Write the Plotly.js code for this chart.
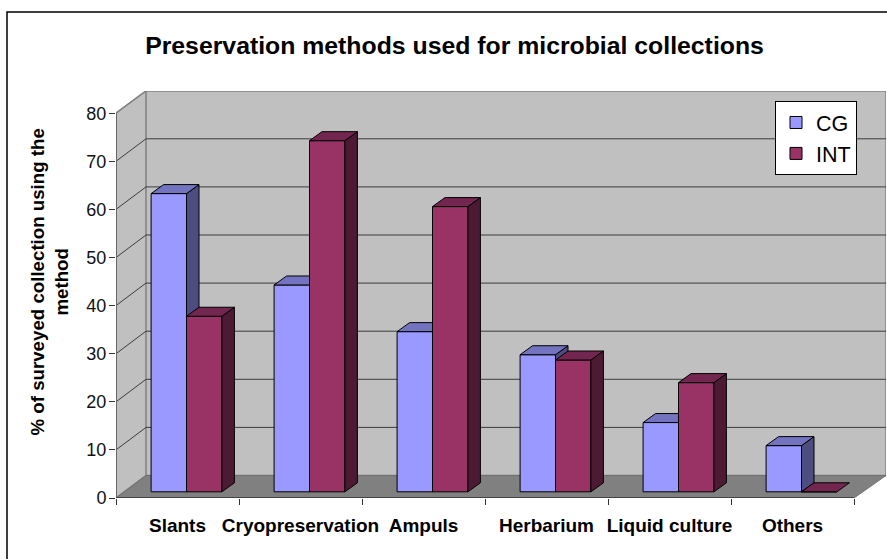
<!DOCTYPE html>
<html>
<head>
<meta charset="utf-8">
<script src="https://cdn.plot.ly/plotly-3.0.1.min.js"></script>
<style>
  html, body { margin: 0; padding: 0; background: #fff; overflow: hidden; }
</style>
</head>
<body>
<div id="chart" style="width:887px;height:559px;"></div>
<script>
// Survey results: share of collections using each preservation method
const categories = ['Slants', 'Cryopreservation', 'Ampuls', 'Herbarium', 'Liquid culture', 'Others'];
const cgValues = [62, 43, 33.3, 28.5, 14.4, 9.6];
const intValues = [36.5, 73, 59.3, 27.4, 22.7, 0];
const yTicks = [0, 10, 20, 30, 40, 50, 60, 70, 80];

// Plot box in pixels and the scale of each axis
const W = 887, H = 559;
const M = { l: 116, r: 1, t: 91, b: 61 };
const pxPerCat = 123, pxPerUnit = 4.81;
const xMax = (W - M.l - M.r) / pxPerCat;
const yMax = (H - M.t - M.b) / pxPerUnit;
const px = v => v / pxPerCat;   // horizontal pixels to category units
const py = v => v / pxPerUnit;  // vertical pixels to percent units

// Oblique projection: wall depth, bar depth, and where bars stand on the floor
const wallDX = px(30), wallDY = py(22.5);
const barDX = px(12.5), barDY = py(9);
const liftX = px(9), liftY = py(6.2);
const barW = px(35.4);

const n = categories.length;
const centres = categories.map((_, i) => i + 0.5);
const boundaries = Array.from({ length: n + 1 }, (_, i) => i);

const polygon = pts => 'M' + pts.map(p => p[0] + ',' + p[1]).join('L') + 'Z';
const dataShape = (path, fill, lineColor, lineWidth) => ({
  type: 'path', xref: 'x', yref: 'y', layer: 'below', path,
  fillcolor: fill, line: { color: lineColor, width: lineWidth }
});

// Walls, floor and gridlines of the box
const shapes = [
  dataShape(polygon([[0, 0], [wallDX, wallDY], [xMax, wallDY], [xMax, yMax], [wallDX, yMax], [0, 80]]), '#c0c0c0', '#808080', 1.5),
  dataShape(polygon([[wallDX, wallDY], [wallDX, yMax], [0, 80], [0, 0]]), '#c0c0c0', '#808080', 1.5),
  dataShape(polygon([[0, 0], [wallDX, wallDY], [xMax, wallDY], [n, 0]]), '#808080', '#707070', 1)
];
yTicks.slice(1, -1).forEach(v => {
  shapes.push(dataShape(`M0,${v}L${wallDX},${v + wallDY}L${xMax},${v + wallDY}`, 'rgba(0,0,0,0)', '#3c3c3c', 1));
});
// Axis lines along the front edge of the box
shapes.push(dataShape(`M0,0L0,80`, 'rgba(0,0,0,0)', '#666666', 2));
shapes.push(dataShape(`M0,0L${n},0`, 'rgba(0,0,0,0)', '#333333', 1.5));
// Chart frame: top and left edges
const paperX = p => (p - M.l) / (W - M.l - M.r);
const paperY = p => 1 - (p - M.t) / (H - M.t - M.b);
shapes.push({
  type: 'path', xref: 'paper', yref: 'paper',
  path: `M${paperX(7)},${paperY(H)}L${paperX(7)},${paperY(12)}L${paperX(W)},${paperY(12)}`,
  line: { color: '#000', width: 1.5 }
});

// One series is a bar trace for the front faces plus filled polygons for top and side
function seriesTraces(name, values, shift, colors, xa, ya) {
  const xs = centres.map(c => c + liftX + shift);
  const traces = [{
    type: 'bar', name, x: xs, y: values, base: values.map(() => liftY), width: barW,
    marker: { color: colors.front, line: { color: '#000', width: 1 } },
    xaxis: xa, yaxis: ya, hoverinfo: 'skip'
  }];
  const face = (pts, color) => ({
    type: 'scatter', mode: 'lines', x: pts.map(p => p[0]).concat(pts[0][0]), y: pts.map(p => p[1]).concat(pts[0][1]),
    fill: 'toself', fillcolor: color, line: { color: '#000', width: 1 },
    xaxis: xa, yaxis: ya, showlegend: false, hoverinfo: 'skip'
  });
  values.forEach((v, i) => {
    const l = xs[i] - barW / 2, r = xs[i] + barW / 2, t = v + liftY, b = liftY;
    if (v > 0) {
      traces.push(face([[r, b], [r + barDX, b + barDY], [r + barDX, t + barDY], [r, t]], colors.side));
    }
    traces.push(face([[l, t], [l + barDX, t + barDY], [r + barDX, t + barDY], [r, t]], colors.top));
  });
  return traces;
}

const data = [
  ...seriesTraces('CG', cgValues, -barW / 2, { front: '#9999ff', side: '#4d4d80', top: '#7373bf' }, 'x', 'y'),
  ...seriesTraces('INT', intValues, barW / 2, { front: '#993366', side: '#4d1a33', top: '#732650' }, 'x2', 'y2')
];

const font = 'Liberation Sans, Arial, sans-serif';
const layout = {
  width: W, height: H, margin: M,
  paper_bgcolor: '#fff', plot_bgcolor: 'rgba(0,0,0,0)',
  font: { family: font, color: '#000' },
  barmode: 'overlay',
  title: {
    text: '<b>Preservation methods used for microbial collections</b>',
    font: { family: font, size: 24.8, color: '#000' },
    x: 454.5 / W, xanchor: 'center', y: 1 - 45 / H, yanchor: 'middle'
  },
  xaxis: {
    range: [0, xMax], showgrid: false, zeroline: false, showline: false,
    tickmode: 'array', tickvals: centres,
    ticktext: categories.map(c => '<b>' + c + '</b>'),
    ticks: '', tickfont: { family: font, size: 19, color: '#000' }, ticklabelstandoff: 14,
    minor: { tickmode: 'array', tickvals: boundaries, ticks: 'outside', ticklen: 6, tickwidth: 1, tickcolor: '#333', showgrid: false }
  },
  yaxis: {
    range: [0, yMax], showgrid: false, zeroline: false, showline: false,
    tickmode: 'array', tickvals: yTicks, ticks: 'outside', ticklen: 6, tickwidth: 1, tickcolor: '#333',
    tickfont: { family: font, size: 18, color: '#111' }, ticklabelstandoff: -1
  },
  xaxis2: { range: [0, xMax], overlaying: 'x', visible: false },
  yaxis2: { range: [0, yMax], overlaying: 'y', visible: false },
  legend: {
    x: paperX(775), y: paperY(101), xanchor: 'left', yanchor: 'top',
    bgcolor: '#fff', bordercolor: '#000', borderwidth: 1,
    font: { family: font, size: 21.5, color: '#000' }, traceorder: 'normal'
  },
  showlegend: true,
  annotations: [{
    xref: 'paper', yref: 'paper', x: paperX(49), y: paperY(282.5), xanchor: 'center', yanchor: 'middle',
    text: '<b>% of surveyed collection using the<br>method</b>', textangle: -90, showarrow: false,
    font: { family: font, size: 18.7, color: '#000' }
  }],
  shapes
};

Plotly.newPlot('chart', data, layout, { displayModeBar: false, staticPlot: true });
</script>
</body>
</html>
